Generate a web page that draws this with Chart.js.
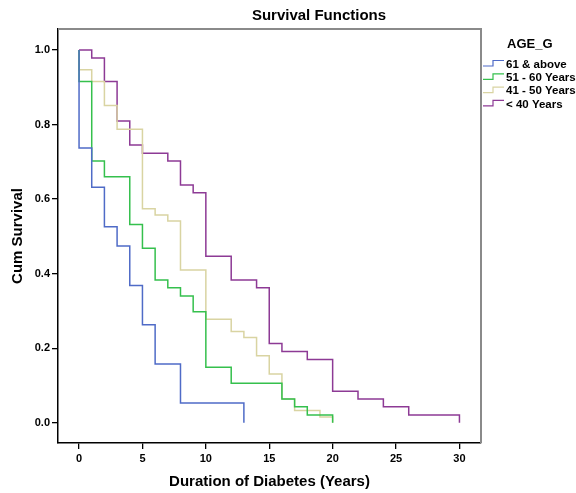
<!DOCTYPE html>
<html>
<head>
<meta charset="utf-8">
<script src="https://cdn.jsdelivr.net/npm/chart.js@4.4.1/dist/chart.umd.min.js"></script>
<style>
  html, body { margin: 0; padding: 0; background: #fff; }
  #wrap { width: 576px; height: 493px; }
</style>
</head>
<body>
<div id="wrap"><canvas id="survChart" width="576" height="493"></canvas></div>
<script>
// ─── DATA ───
const groupLabels = ['61 & above', '51 - 60 Years', '41 - 50 Years', '< 40 Years'];

const time61 = [0, 0, 1, 2, 3, 4, 5, 6, 8, 13];
const surv61 = [1, 0.737, 0.632, 0.526, 0.474, 0.368, 0.263, 0.158, 0.053, 0];

const time51 = [0, 0, 1, 2, 4, 5, 6, 7, 8, 9, 10, 12, 16, 17, 18, 20];
const surv51 = [1, 0.915, 0.702, 0.660, 0.532, 0.468, 0.383, 0.362, 0.340, 0.298, 0.149, 0.106, 0.064, 0.043, 0.021, 0];

const time41 = [0, 0, 1, 2, 3, 5, 6, 7, 8, 10, 12, 13, 14, 15, 16, 17, 19, 20];
const surv41 = [1, 0.947, 0.915, 0.851, 0.787, 0.574, 0.557, 0.541, 0.410, 0.278, 0.245, 0.229, 0.180, 0.131, 0.064, 0.033, 0.016, 0];

const time40 = [0, 1, 2, 3, 4, 5, 7, 8, 9, 10, 12, 14, 15, 16, 18, 20, 22, 24, 26, 30];
const surv40 = [1, 0.978, 0.915, 0.809, 0.745, 0.723, 0.702, 0.638, 0.617, 0.447, 0.383, 0.362, 0.213, 0.191, 0.170, 0.085, 0.064, 0.043, 0.021, 0];

const xTicks = [0, 5, 10, 15, 20, 25, 30];
const yTicks = [0, 0.2, 0.4, 0.6, 0.8, 1.0];

const colors = ['#4f6bc7', '#35c04d', '#d9d4a2', '#8d3a95'];

function pts(ts, ss) {
  return ts.map((t, i) => ({ x: t, y: ss[i] }));
}

const seriesData = [pts(time61, surv61), pts(time51, surv51), pts(time41, surv41), pts(time40, surv40)];

const FONT = '"Liberation Sans", Arial, sans-serif';

// ─── title, frame and legend drawn on top ───
const decorPlugin = {
  id: 'decor',
  afterDraw(chart) {
    const ctx = chart.ctx;
    const a = chart.chartArea;
    ctx.save();

    // gray top + right frame
    ctx.strokeStyle = '#8a8a8a';
    ctx.lineWidth = 2;
    ctx.beginPath();
    ctx.moveTo(a.left, a.top);
    ctx.lineTo(a.right, a.top);
    ctx.lineTo(a.right, a.bottom);
    ctx.stroke();

    // title
    ctx.fillStyle = '#000';
    ctx.font = 'bold 15px ' + FONT;
    ctx.textAlign = 'center';
    ctx.textBaseline = 'middle';
    ctx.fillText('Survival Functions', 319, 16);

    // legend
    ctx.font = 'bold 13px ' + FONT;
    ctx.textAlign = 'left';
    ctx.fillText('AGE_G', 507, 44);
    ctx.font = 'bold 11.5px ' + FONT;
    groupLabels.forEach((lab, i) => {
      const y = 64.5 + i * 13.3;
      ctx.strokeStyle = colors[i];
      ctx.lineWidth = 1.2;
      ctx.beginPath();
      ctx.moveTo(483, y + 1.5);
      ctx.lineTo(493, y + 1.5);
      ctx.lineTo(493, y - 4);
      ctx.lineTo(504, y - 4);
      ctx.stroke();
      ctx.fillStyle = '#000';
      ctx.fillText(lab, 506, y);
    });
    ctx.restore();
  }
};

const datasets = seriesData.map((d, i) => ({
  label: groupLabels[i],
  data: d,
  borderColor: colors[i],
  backgroundColor: colors[i],
  borderWidth: 1.5,
  stepped: 'before',
  pointRadius: 0,
  fill: false,
  order: i === 2 ? 3 : i
}));

new Chart(document.getElementById('survChart'), {
  type: 'line',
  data: { datasets },
  plugins: [decorPlugin],
  options: {
    responsive: false,
    animation: false,
    devicePixelRatio: 1,
    layout: { padding: { top: 29, right: 95, left: 0, bottom: 0 } },
    plugins: {
      legend: { display: false },
      tooltip: { enabled: false }
    },
    scales: {
      x: {
        type: 'linear',
        min: -1.66,
        max: 31.7,
        afterBuildTicks: s => { s.ticks = xTicks.map(v => ({ value: v })); },
        afterFit: s => { s.height = 50; },
        grid: { drawOnChartArea: false, tickLength: 6, color: '#000', lineWidth: 1.3 },
        border: { color: '#000', width: 1.5 },
        ticks: { color: '#000', font: { family: FONT, size: 11, weight: 'bold' }, padding: 3, maxRotation: 0, autoSkip: false },
        title: { display: true, text: 'Duration of Diabetes (Years)', color: '#000', font: { family: FONT, size: 15, weight: 'bold' }, padding: { top: 0, bottom: 2 } }
      },
      y: {
        min: -0.054,
        max: 1.056,
        afterBuildTicks: s => { s.ticks = yTicks.map(v => ({ value: v })); },
        afterFit: s => { s.width = 58; },
        grid: { drawOnChartArea: false, tickLength: 6, color: '#000', lineWidth: 1.3 },
        border: { color: '#000', width: 1.5 },
        ticks: { color: '#000', font: { family: FONT, size: 11, weight: 'bold' }, padding: 2, callback: v => v.toFixed(1) },
        title: { display: true, text: 'Cum Survival', color: '#000', font: { family: FONT, size: 15, weight: 'bold' }, padding: { top: 9, bottom: 0 } }
      }
    }
  }
});
</script>
</body>
</html>
